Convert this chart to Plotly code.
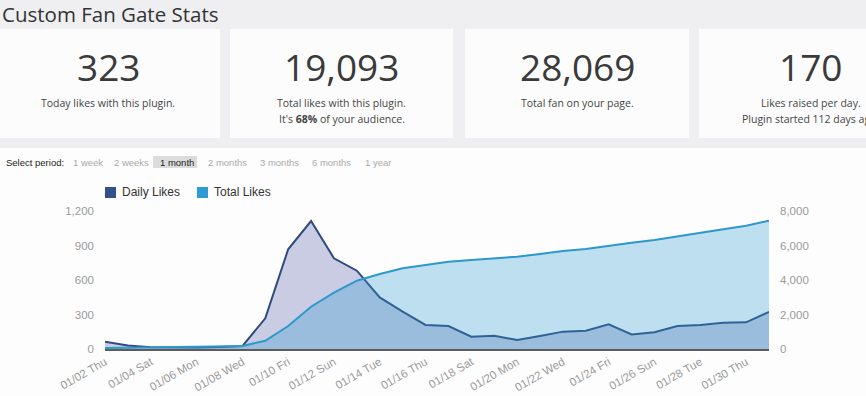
import pandas as pd
import plotly.graph_objects as go

# ---------------- data ----------------
dates = pd.date_range("2014-01-02", periods=30, freq="D")
daily_likes = [63, 30, 15, 12, 14, 18, 25, 267, 867, 1113, 789, 681, 449, 325, 209,
               200, 107, 116, 78, 113, 151, 159, 215, 127, 145, 200, 209, 229, 232, 323]
total_likes = [60, 90, 105, 117, 131, 149, 174, 480, 1333, 2452, 3264, 3960, 4348, 4677, 4870,
               5061, 5159, 5258, 5351, 5507, 5681, 5800, 5990, 6164, 6319, 6512, 6705, 6937, 7148, 7438]
series_names = ["Daily Likes", "Total Likes"]
left_ticks = [0, 300, 600, 900, 1200]
right_ticks = [0, 2000, 4000, 6000, 8000]

card_numbers = ["323", "19,093", "28,069", "170"]
card_line1 = ["Today likes with this plugin.", "Total likes with this plugin.",
              "Total fan on your page.", "Likes raised per day."]
card_line2 = ["", "It's <b>68%</b> of your audience.", "", "Plugin started 112 days ago."]
periods = ["1 week", "2 weeks", "1 month", "2 months", "3 months", "6 months", "1 year"]
active_period = "1 month"

# ---------------- geometry helpers (page pixels -> paper) ----------------
W, H = 866, 396
L, R, T, B = 105, 97, 211, 47
PW, PH = W - L - R, H - T - B


def X(px):
    return (px - L) / PW


def Y(py):
    return (H - B - py) / PH


NAVY = "#33518a"
BLUE = "#2e9bd4"

fig = go.Figure()
fig.add_trace(go.Scatter(
    x=dates, y=daily_likes, name=series_names[0], mode="lines",
    line=dict(color="#2f4a7c", width=2), fill="tozeroy",
    fillcolor="rgba(70,80,160,0.28)", yaxis="y", hoverinfo="skip", showlegend=False))
fig.add_trace(go.Scatter(
    x=dates, y=total_likes, name=series_names[1], mode="lines",
    line=dict(color="#2d98cc", width=2), fill="tozeroy",
    fillcolor="rgba(46,155,212,0.30)", yaxis="y2", hoverinfo="skip", showlegend=False))

shapes = []
ann = []


def rect(x0, y0, x1, y1, color):
    shapes.append(dict(type="rect", xref="paper", yref="paper", x0=X(x0), x1=X(x1),
                       y0=Y(y1), y1=Y(y0), fillcolor=color, line=dict(width=0), layer="below"))


def text(px, py, s, size, color, family="Open Sans", xanchor="center"):
    ann.append(dict(xref="paper", yref="paper", x=X(px), y=Y(py), text=s, showarrow=False,
                    xanchor=xanchor, yanchor="middle",
                    font=dict(family=family, size=size, color=color)))


# page background band and cards
rect(-10, 0, 900, 148, "#efeef1")
card_x = [(-4, 220), (230, 453), (465, 689), (699, 923)]
for i, (a, b) in enumerate(card_x):
    rect(a, 29, b, 138, "#fcfcfc")
    cx = (a + b) / 2
    text(cx, 67, card_numbers[i], 37, "#3a3a3a")
    text(cx, 103, card_line1[i], 10.5, "#444444")
    if card_line2[i]:
        text(cx, 119, card_line2[i], 10.5, "#444444")

# title
text(0, 14, "Custom Fan Gate Stats", 20.5, "#333333", xanchor="left")

# period selector
text(4, 162, "Select period:", 9.5, "#222222", family="Arial", xanchor="left")
period_x = [71, 112, 158, 206, 258, 310, 363]
rect(153, 156, 197, 168, "#dcdcdc")
for p, px in zip(periods, period_x):
    text(px, 162, p, 9.5, "#222222" if p == active_period else "#aaaaaa",
         family="Arial", xanchor="left")

# legend
rect(105, 187, 116, 198, NAVY)
rect(197, 187, 208, 198, BLUE)
text(120, 192, series_names[0], 12, "#333333", family="Arial", xanchor="left")
text(212, 192, series_names[1], 12, "#333333", family="Arial", xanchor="left")

tickfont = dict(family="Arial", size=11.5, color="#9a9a9a")
fig.update_layout(
    width=W, height=H,
    margin=dict(l=L, r=R, t=T, b=B, autoexpand=False),
    paper_bgcolor="#fdfdfd", plot_bgcolor="rgba(0,0,0,0)",
    showlegend=False,
    shapes=shapes, annotations=ann,
    xaxis=dict(type="date", range=[dates[0], dates[-1]], showgrid=False, zeroline=False,
               showline=True, linecolor="#5c5c5c", linewidth=2, automargin=False,
               tickformat="%m/%d %a", tick0=dates[0], dtick=2 * 86400000,
               tickangle=-30, ticks="", tickfont=tickfont),
    yaxis=dict(range=[0, 1200], tickvals=left_ticks, tickformat=",", showgrid=False,
               zeroline=False, showline=False, ticks="", ticklabelstandoff=10,
               automargin=False, tickfont=tickfont),
    yaxis2=dict(range=[0, 8000], tickvals=right_ticks, tickformat=",", overlaying="y",
                side="right", showgrid=False, zeroline=False, showline=False, ticks="",
                ticklabelstandoff=10, automargin=False, tickfont=tickfont),
)

fig.write_html("out.html", config={"displayModeBar": False},
               post_script="document.body.style.margin='0';document.body.style.overflow='hidden';")
